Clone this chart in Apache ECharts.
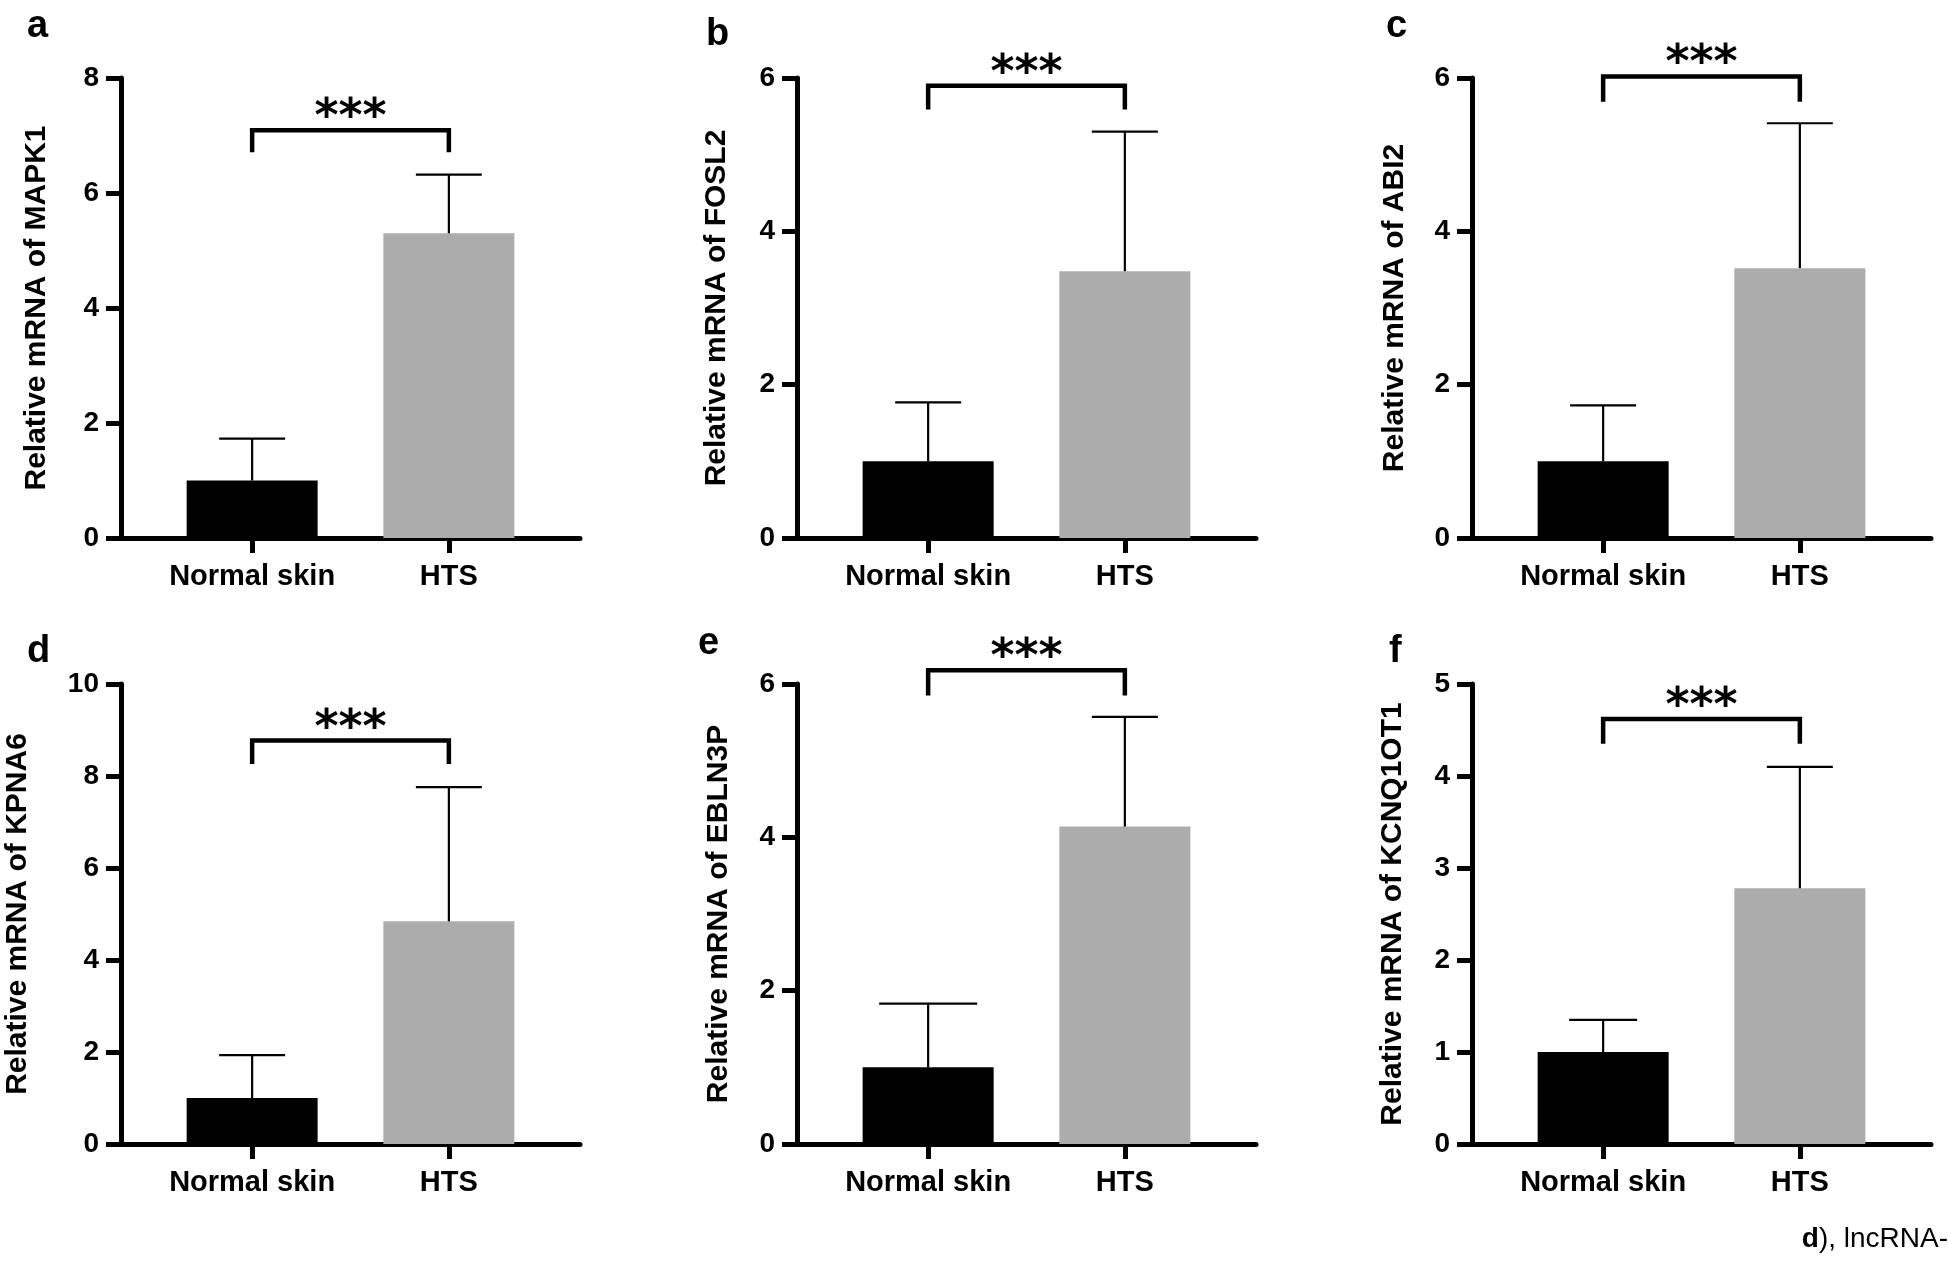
<!DOCTYPE html>
<html>
<head>
<meta charset="utf-8">
<script src="https://cdn.jsdelivr.net/npm/echarts@6/dist/echarts.min.js"></script>
<style>
  html, body { margin: 0; padding: 0; background: #fff; }
  #main { width: 1948px; height: 1262px; }
</style>
</head>
<body>
<div id="main"></div>
<script>
// data
const groups = ['Normal skin', 'HTS'];
const genes = ['MAPK1', 'FOSL2', 'ABI2', 'KPNA6', 'EBLN3P', 'KCNQ1OT1'];
const panelTags = ['a', 'b', 'c', 'd', 'e', 'f'];
const normalMean = [1.0, 1.0, 1.0, 1.0, 1.0, 1.0];
const normalSd = [0.73, 0.77, 0.73, 0.93, 0.83, 0.35];
const htsMean = [5.30, 3.48, 3.52, 4.84, 4.14, 2.78];
const htsSd = [1.02, 1.82, 1.89, 2.92, 1.43, 1.32];
const yMax = [8, 6, 6, 10, 6, 5];
const yStep = [2, 2, 2, 2, 2, 1];
const bracketTop = [7.09, 5.90, 6.02, 8.77, 6.18, 4.62];
const bracketFoot = [6.71, 5.59, 5.69, 8.26, 5.85, 4.35];
const sigMark = '***';
const footnote = [{ t: 'd', bold: true }, { t: '), lncRNA-', bold: false }];

// layout
const colLeft = [121, 797, 1472];
const rowTop = [78, 684];
const plotW = 459, plotH = 460;
const nameGaps = [69, 65, 62, 88, 63, 64];
const capHalf = [[33, 33], [33, 33], [33, 33], [33, 33], [49, 33], [34, 33]];
const tagPos = [[27, 38], [706, 46], [1386, 38], [27, 663], [698, 655], [1389, 663]];
const FONT = '"Liberation Sans", Arial, Helvetica, sans-serif';
const barColors = ['#000000', '#acacac'];

const grid = [], xAxis = [], yAxis = [], series = [], graphic = [];

genes.forEach((gene, i) => {
  const col = i % 3, row = Math.floor(i / 3);
  grid.push({ left: colLeft[col], top: rowTop[row], width: plotW, height: plotH });

  xAxis.push({
    type: 'value', gridIndex: i, min: 1 / 3, max: 8 / 3,
    axisLine: { show: true, lineStyle: { color: '#000', width: 5 } },
    axisTick: { show: true, customValues: [1, 2], length: 15, lineStyle: { color: '#000', width: 5 } },
    axisLabel: {
      customValues: [1, 2], margin: 24, color: '#000', fontSize: 29, fontWeight: 'bold', fontFamily: FONT,
      formatter: v => (Math.abs(v - 1) < 1e-6 ? groups[0] : Math.abs(v - 2) < 1e-6 ? groups[1] : '')
    },
    splitLine: { show: false }
  });

  yAxis.push({
    type: 'value', gridIndex: i, min: 0, max: yMax[i], interval: yStep[i],
    name: 'Relative mRNA of ' + gene, nameLocation: 'middle', nameGap: nameGaps[i],
    nameTextStyle: { color: '#000', fontSize: 30, fontWeight: 'bold', fontFamily: FONT },
    axisLine: { show: true, lineStyle: { color: '#000', width: 5 } },
    axisTick: { show: true, length: 15, lineStyle: { color: '#000', width: 5 } },
    axisLabel: { margin: 22, color: '#000', fontSize: 28, fontWeight: 'bold', fontFamily: FONT },
    splitLine: { show: false }
  });

  series.push({
    type: 'bar', xAxisIndex: i, yAxisIndex: i, barWidth: 131, silent: true,
    data: [
      { value: [1, normalMean[i]], itemStyle: { color: barColors[0] } },
      { value: [2, htsMean[i]], itemStyle: { color: barColors[1] } }
    ]
  });

  // error bars (upper only)
  series.push({
    type: 'custom', xAxisIndex: i, yAxisIndex: i, silent: true, z: 5,
    data: [[1, normalMean[i], normalSd[i]], [2, htsMean[i], htsSd[i]]],
    renderItem: (params, api) => {
      const x = api.value(0), m = api.value(1), s = api.value(2);
      const base = api.coord([x, m]);
      const top = api.coord([x, m + s]);
      const hw = capHalf[i][params.dataIndex];
      const st = { stroke: '#000', lineWidth: 2.2 };
      return {
        type: 'group', children: [
          { type: 'line', shape: { x1: base[0], y1: base[1], x2: top[0], y2: top[1] }, style: st },
          { type: 'line', shape: { x1: top[0] - hw, y1: top[1], x2: top[0] + hw, y2: top[1] }, style: st }
        ]
      };
    }
  });

  // significance bracket
  series.push({
    type: 'custom', xAxisIndex: i, yAxisIndex: i, silent: true, z: 6, clip: false,
    data: [[1, 2, bracketTop[i], bracketFoot[i]]],
    renderItem: (params, api) => {
      const l = api.coord([api.value(0), api.value(2)]);
      const r = api.coord([api.value(1), api.value(2)]);
      const lf = api.coord([api.value(0), api.value(3)]);
      const rf = api.coord([api.value(1), api.value(3)]);
      return {
        type: 'group', children: [
          {
            type: 'polyline',
            shape: { points: [lf, l, r, rf] },
            style: { stroke: '#000', lineWidth: 4.5, fill: null, lineJoin: 'miter' }
          },
          {
            type: 'text', x: (l[0] + r[0]) / 2, y: l[1] - 11,
            style: {
              text: sigMark, fill: '#000', fontSize: 46, fontWeight: 'bold',
              fontFamily: '"DejaVu Sans", sans-serif',
              align: 'center', verticalAlign: 'middle'
            }
          }
        ]
      };
    }
  });

  graphic.push({
    type: 'text', left: tagPos[i][0], top: tagPos[i][1] - 30,
    style: { text: panelTags[i], fill: '#000', fontSize: 38, fontWeight: 'bold', fontFamily: FONT }
  });
});

graphic.push({
  type: 'text', right: 0, top: 1225,
  style: {
    text: '{b|' + footnote[0].t + '}{n|' + footnote[1].t + '}',
    rich: {
      b: { fontSize: 28, fontWeight: 'bold', fontFamily: FONT, fill: '#000' },
      n: { fontSize: 28, fontFamily: FONT, fill: '#000' }
    }
  }
});

const myChart = echarts.init(document.getElementById('main'), null, { renderer: 'canvas' });
myChart.setOption({
  backgroundColor: '#fff',
  animation: false,
  grid, xAxis, yAxis, series, graphic
});
</script>
</body>
</html>
